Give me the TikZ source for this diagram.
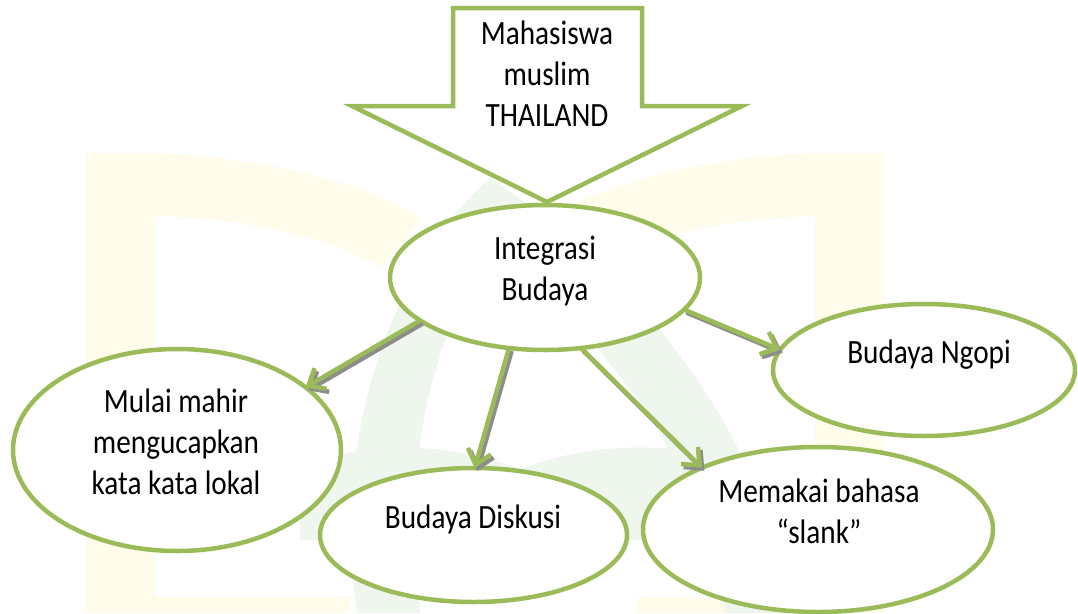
\documentclass[tikz,border=0pt]{standalone}
\usepackage{fontspec}
\setmainfont{Carlito}[FakeStretch=0.86]
\usetikzlibrary{shapes.geometric,arrows.meta}
\definecolor{og}{HTML}{9BBB59}
\definecolor{wmy}{HTML}{FFFCEB}
\definecolor{wmg}{HTML}{EEF6EE}
\begin{document}
\begin{tikzpicture}[x=1pt,y=-1pt,
  ell/.style={ellipse,draw=og,line width=4.5pt,fill=white,inner sep=0pt,outer sep=0pt},
  lbl/.style={align=center,anchor=north,inner sep=0pt,font=\fontsize{34}{41}\selectfont,
    execute at begin node=\strut,execute at end node=\strut},
  conn/.style={draw=og,line width=4.5pt,-{Straight Barb[length=14pt,width=24pt]}},
  connshadow/.style={draw=black!45,line width=4.5pt,-{Straight Barb[length=14pt,width=24pt]},
    transform canvas={xshift=2.5pt,yshift=-3pt}}]
\useasboundingbox[fill=white] (0,0) rectangle (1078,613);
% watermark
\fill[wmy] (86,153) -- (160,153) .. controls (260,158) and (360,180) .. (422,218)
  -- (382,267) .. controls (320,235) and (240,218) .. (155,216) -- (155,597)
  -- (350,597) -- (350,613) -- (86,613) -- cycle;
\fill[wmy] (884,153) -- (810,153) .. controls (710,158) and (610,180) .. (548,218)
  -- (588,267) .. controls (650,235) and (730,218) .. (815,216) -- (815,597)
  -- (637,597) -- (637,613) -- (884,613) -- cycle;
\fill[wmg] (357,613) .. controls (330,420) and (400,260) .. (490,178)
  .. controls (600,250) and (760,400) .. (790,613) -- (725,613)
  .. controls (700,440) and (580,320) .. (495,250)
  .. controls (440,320) and (400,440) .. (420,613) -- cycle;
\fill[wmg] (300,470) .. controls (350,440) and (450,440) .. (520,470)
  .. controls (590,440) and (690,440) .. (760,470) -- (760,540) -- (300,540) -- cycle;
% top block arrow
\draw[og,line width=4.5pt,fill=white,line join=miter]
  (453,8) -- (642,8) -- (642,106) -- (742,106) -- (547,202) -- (352,106) -- (453,106) -- cycle;
\node[lbl] (tmhs) at (547,20.8) {Mahasiswa\\muslim\\THAILAND};
% ellipses
\node[ell,minimum width=310pt,minimum height=145pt] (integ) at (545,277.5) {};
\node[ell,minimum width=328pt,minimum height=202pt] (mulai) at (177,450) {};
\node[ell,minimum width=307pt,minimum height=134pt] (disk) at (473.5,535) {};
\node[ell,minimum width=350pt,minimum height=165pt] (mema) at (818,529.5) {};
\node[ell,minimum width=302pt,minimum height=132pt] (ngopi) at (924,370) {};
% texts
\node[lbl] (tinteg) at (545,236) {Integrasi\\Budaya};
\node[lbl] (tmulai) at (176,388.3) {Mulai mahir\\mengucapkan\\kata kata lokal};
\node[lbl] (tngopi) at (929,334.3) {Budaya Ngopi};
\node[lbl] (tmema) at (819,478.3) {Memakai bahasa\\“slank”};
\node[lbl] (tdisk) at (473,499.3) {Budaya Diskusi};
% connector shadows
\draw[connshadow] (integ.199.9) -- (mulai.26.2);
\draw[connshadow] (integ.243.6) -- (disk.89);
\draw[connshadow] (integ.297.6) -- (mema.152.3);
\draw[connshadow] (integ.347.9) -- (ngopi.172.9);
% connectors
\draw[conn] (integ.199.9) -- (mulai.26.2);
\draw[conn] (integ.243.6) -- (disk.89);
\draw[conn] (integ.297.6) -- (mema.152.3);
\draw[conn] (integ.347.9) -- (ngopi.172.9);
\end{tikzpicture}
\end{document}
